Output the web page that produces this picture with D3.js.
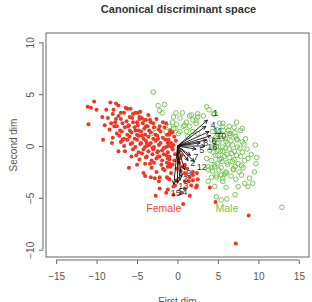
<!DOCTYPE html>
<html>
<head>
<meta charset="utf-8">
<script src="https://cdn.jsdelivr.net/npm/d3@7"></script>
<style>
  body { margin: 0; background: #fff; }
  svg { display: block; font-family: "Liberation Sans", Arial, sans-serif; }
</style>
</head>
<body>
<svg id="chart" width="312" height="302"></svg>
<script>
// Canonical scores (first dim, second dim)
const female = [
  [-10.3,4.3],[-11.1,3.8],[-10.7,3.7],[-10.0,3.5],[-11.0,2.1],[-8.3,4.2],[-7.6,4.1],[-7.3,3.9],
  [-7.9,3.5],[-6.2,3.6],[-9.2,0.6],[-8.1,0.3],[-6.0,-2.1],[-6.5,-0.5],[-5.7,-1.0],[-4.9,3.2],
  [-3.9,2.5],[-5.0,-1.8],[-4.0,-2.9],[-3.3,-3.0],[-2.3,-3.4],[-1.3,-3.0],[-2.2,-4.1],[-1.4,-4.5],
  [-2.7,-4.8],[-0.3,-3.8],[0.7,-5.6],[-0.5,-4.7],[1.5,-4.8],[2.3,-4.0],[1.7,-3.8],[4.0,-4.0],
  [4.7,-5.4],[8.8,-6.7],[7.2,-9.4],[2.4,-2.6],[2.5,-3.2],[1.5,-3.0],[-2.2,-3.0],[-1.0,-3.2],
  [1.4,-3.4],[-5.5,3.1],[-4.7,2.8],[-3.4,2.5],[-1.8,2.3],[-1.0,1.2],[-2.4,0.7],[-3.8,0.3],
  [-1.4,-0.1],[-2.2,-1.0],[-3.4,-1.7],[-1.0,-1.7],[-1.6,-2.3],[-4.2,-2.6],[-2.8,-3.1],
  [-1.0,1.1],[-1.2,0.3],[-0.7,-0.1],[-1.4,-0.9],[-1.0,-1.3],[-1.2,-2.0],[-0.1,-3.3],[0.9,-3.4],
  [1.9,-3.3],[2.4,-3.8],[0.9,-4.1],[-0.5,-3.9],[-1.2,-4.2],[0.5,-4.5],[-1.2,-3.1],[0.9,-2.6],[1.9,-2.8],
  [-8.8,3.5],[-7.0,3.2],[-5.8,3.6],[-4.6,3.3],[-6.4,3.7],
  [-9.3,2.8],[-8.0,3.1],[-7.3,2.9],[-6.6,3.2],[-5.9,2.8],[-5.2,3.2],[-4.4,2.7],[-3.6,3.0],
  [-8.6,2.7],[-7.7,2.3],[-7.0,2.6],[-6.3,2.4],[-5.6,2.7],[-5.0,2.3],[-4.1,2.5],[-3.3,2.3],[-2.6,2.6],
  [-9.0,2.0],[-8.2,2.2],[-7.5,1.9],[-6.8,2.2],[-6.1,1.9],[-5.5,2.3],[-4.9,2.0],[-4.3,2.2],[-3.7,1.9],
  [-3.0,2.2],[-2.2,1.9],[-1.4,2.2],
  [-8.4,1.6],[-7.8,1.9],[-7.1,1.5],[-6.5,1.8],[-5.9,1.5],[-5.3,1.8],[-4.8,1.5],[-4.1,1.7],[-3.5,1.5],
  [-2.9,1.8],[-2.3,1.6],[-1.6,1.8],[-0.9,1.5],
  [-7.5,1.2],[-6.9,1.4],[-6.2,1.1],[-5.7,1.3],[-5.0,1.1],[-4.5,1.4],[-4.0,1.1],[-3.3,1.3],[-2.7,1.1],
  [-2.1,1.4],[-1.3,1.1],[-0.6,1.3],
  [-8.0,0.8],[-7.2,1.0],[-6.6,0.7],[-5.9,0.9],[-5.3,0.7],[-4.8,1.0],[-4.2,0.7],[-3.6,0.9],[-3.0,0.7],
  [-2.5,1.0],[-1.8,0.8],[-1.1,0.6],[-0.4,0.9],
  [-7.0,0.4],[-6.2,0.6],[-5.6,0.3],[-5.0,0.6],[-4.5,0.3],[-3.9,0.5],[-3.3,0.3],[-2.7,0.5],[-2.1,0.3],
  [-1.5,0.6],[-0.8,0.3],[-0.2,0.5],
  [-6.6,0.0],[-5.8,0.2],[-5.2,-0.1],[-4.6,0.2],[-4.0,-0.1],[-3.5,0.1],[-2.9,-0.1],[-2.3,0.1],[-1.7,-0.2],
  [-1.1,0.0],[-0.5,0.1],
  [-7.3,-0.5],[-5.5,-0.3],[-4.8,-0.6],[-4.2,-0.3],[-3.6,-0.5],[-3.0,-0.3],[-2.5,-0.6],[-1.9,-0.4],
  [-1.2,-0.6],[-0.6,-0.3],[0.2,-0.5],
  [-5.1,-0.9],[-4.4,-0.7],[-3.8,-1.0],[-3.1,-0.8],[-2.4,-1.0],[-1.7,-0.8],[-1.0,-1.0],[-0.3,-0.8],[0.5,-0.9],
  [-4.7,-1.3],[-3.9,-1.1],[-3.2,-1.4],[-2.6,-1.2],[-1.9,-1.4],[-1.2,-1.2],[-0.4,-1.4],[0.3,-1.2],
  [-4.0,-1.7],[-2.9,-1.6],[-2.0,-1.8],[-1.3,-1.6],[-0.6,-1.8],[0.2,-1.6],[0.9,-1.8],
  [-3.2,-2.1],[-1.8,-2.2],[-0.9,-2.0],[-0.1,-2.2],[0.6,-2.0],[1.2,-2.2],
  [-2.6,-2.5],[-0.8,-2.6],[0.4,-2.4],[1.0,-2.7],[1.9,-2.5],
  [-6.0,2.0],[-5.2,1.5],[-4.4,1.0],[-3.8,0.0],[-3.1,-0.2],[-2.4,-0.5],[-6.8,0.6],[-7.6,2.6],
  [-4.7,2.6],[-3.9,1.9]
];

const male = [
  [-3.0,5.2],[-2.4,3.9],[-1.6,4.0],[-2.2,3.4],[-1.9,3.2],[-0.2,3.2],[0.6,3.2],[-0.5,2.8],
  [0.3,2.7],[1.5,2.9],[2.5,3.1],[3.6,3.8],[3.9,3.5],[4.4,3.1],[3.2,2.9],[-0.6,2.3],
  [-0.1,2.1],[1.1,2.3],[1.9,2.5],[-1.0,1.9],[-0.3,1.7],[0.7,1.9],[1.5,1.9],[2.3,2.2],
  [-1.4,1.4],[0.1,1.2],[1.1,1.4],[1.9,1.4],[-2.8,1.7],[-3.2,1.2],[2.5,2.8],[4.6,3.1],
  [5.6,2.2],[1.7,3.0],[2.3,2.5],[0.9,2.0],[-0.5,1.7],[0.3,1.4],[1.3,0.9],[2.5,1.2],
  [4.6,0.6],[5.0,-0.4],[5.4,-1.2],[4.6,-2.0],[3.8,-2.3],[4.2,-3.0],[6.0,-2.6],[5.6,-3.4],
  [4.6,-3.9],[3.8,-3.4],[12.9,-5.9],[7.1,-4.7],[4.8,-4.9],[5.4,-5.2],[6.1,-5.1],[9.8,-1.1],
  [9.6,0.1],[9.7,-1.7],[9.5,-2.5],[9.3,-3.6],[8.7,-3.9],[7.5,-3.9],[6.0,-4.0],[8.9,-3.1],
  [7.9,-2.8],[8.1,-2.1],[9.1,-0.8],[8.3,-3.6],[6.9,-2.3],[5.4,-2.8],[4.8,-3.0],[4.2,-2.1],
  [6.5,1.2],[7.4,0.6],
  [5.2,2.2],[6.4,1.9],[7.3,2.3],
  [4.8,1.6],[5.6,1.9],[6.3,1.5],[7.0,1.8],[8.0,1.7],
  [4.3,1.4],[5.0,1.1],[5.7,1.5],[6.4,1.2],[7.1,1.3],[7.8,1.5],
  [4.7,0.8],[5.3,1.1],[5.9,0.7],[6.5,1.0],[7.2,0.9],[8.4,0.7],
  [4.2,0.6],[4.9,0.3],[5.5,0.7],[6.0,0.4],[6.6,0.5],[7.3,0.7],[8.0,0.4],
  [4.5,0.0],[5.1,0.3],[5.6,-0.1],[6.2,0.2],[6.8,0.1],[7.4,-0.1],[8.2,0.2],
  [4.0,-0.4],[4.8,-0.1],[5.3,-0.5],[5.9,-0.2],[6.4,-0.3],[7.0,-0.5],[7.7,-0.2],[8.6,-0.3],
  [4.4,-0.6],[5.0,-0.9],[5.6,-0.5],[6.1,-0.8],[6.7,-0.7],[7.3,-0.9],[8.0,-0.6],
  [3.6,-1.2],[4.7,-0.9],[5.2,-1.3],[5.8,-1.0],[6.4,-1.1],[7.0,-1.3],[7.8,-1.0],[8.7,-1.2],
  [4.2,-1.4],[4.9,-1.7],[5.5,-1.5],[6.1,-1.6],[6.8,-1.5],[7.5,-1.7],[8.3,-1.4],
  [3.8,-2.0],[4.6,-1.8],[5.4,-2.1],[6.2,-1.8],[7.1,-2.0],[7.9,-1.9],
  [4.3,-2.4],[5.1,-2.3],[6.0,-2.5],[6.9,-2.2],[7.6,-2.5],
  [4.8,-2.8],[5.8,-2.7],[6.6,-2.9],
  [5.6,-3.1],[7.2,-3.2]
];

// Structure vectors: variable number, arrow tip, label position
const vecNames = ["1","4","11","10","6","16","8","5","12","7","2","9","3","13","14","15"];
const vecTips = [
  [3.7,2.5],[3.5,1.9],[3.9,1.4],[4.1,1.0],[3.6,0.6],[3.4,0.0],[2.8,0.3],[2.3,-0.3],
  [2.1,-1.5],[1.6,-0.9],[1.3,-1.4],[0.9,-2.3],[0.5,-3.0],[0.3,-3.3],[0.0,-3.6],[-0.45,-3.7]
];
const vecLabelAt = [
  [4.7,3.2],[4.4,2.0],[5.0,1.5],[5.4,1.0],[4.5,0.5],[4.3,-0.1],[3.5,0.3],[3.0,-0.4],
  [3.0,-2.0],[2.3,-1.0],[1.9,-1.6],[1.4,-2.6],[1.0,-3.2],[0.7,-3.8],[0.6,-4.4],[-0.2,-4.5]
];

const groups = ["Female", "Male"];
const groupLabelAt = [[-1.7,-6.0],[6.1,-6.0]];

const xTicks = [-15, -10, -5, 0, 5, 10, 15];
const yTicks = [-10, -5, 0, 5, 10];

const RED = "#f03522";
const GREEN = "#6dbf4b";

const svg = d3.select("#chart");
const x = d3.scaleLinear().domain([-16.25, 16.25]).range([46, 309]);
const y = d3.scaleLinear().domain([-10.7, 10.9]).range([257, 33]);

// points
svg.append("g").selectAll("circle").data(male).join("circle")
  .attr("cx", d => x(d[0])).attr("cy", d => y(d[1])).attr("r", 2.3)
  .attr("fill", "none").attr("stroke", GREEN).attr("stroke-width", 0.9);

svg.append("g").selectAll("circle").data(female).join("circle")
  .attr("cx", d => x(d[0])).attr("cy", d => y(d[1])).attr("r", 2)
  .attr("fill", RED);

// vectors with small arrow heads
const vg = svg.append("g").attr("stroke", "#111").attr("stroke-width", 0.9).attr("fill", "none");
vecTips.forEach(t => {
  const x0 = x(0), y0 = y(0), x1 = x(t[0]), y1 = y(t[1]);
  const a = Math.atan2(y1 - y0, x1 - x0);
  const p = d3.path();
  p.moveTo(x0, y0); p.lineTo(x1, y1);
  p.moveTo(x1 - 4 * Math.cos(a - 0.45), y1 - 4 * Math.sin(a - 0.45));
  p.lineTo(x1, y1);
  p.lineTo(x1 - 4 * Math.cos(a + 0.45), y1 - 4 * Math.sin(a + 0.45));
  vg.append("path").attr("d", p.toString());
});
svg.append("g").selectAll("text").data(vecNames).join("text")
  .attr("x", (d, i) => x(vecLabelAt[i][0])).attr("y", (d, i) => y(vecLabelAt[i][1]))
  .attr("dy", "0.35em").attr("text-anchor", "middle")
  .attr("font-size", 9).attr("fill", "#333")
  .text(d => d);

// group labels
svg.append("g").selectAll("text").data(groups).join("text")
  .attr("x", (d, i) => x(groupLabelAt[i][0])).attr("y", (d, i) => y(groupLabelAt[i][1]))
  .attr("dy", "0.35em").attr("text-anchor", "middle").attr("font-size", 10.5)
  .attr("fill", (d, i) => i === 0 ? "#ee4a3c" : "#74c257")
  .text(d => d);

// frame
svg.append("rect").attr("x", 46).attr("y", 33).attr("width", 263).attr("height", 224)
  .attr("fill", "none").attr("stroke", "#666").attr("stroke-width", 1);

// axes
const xAxis = svg.append("g").attr("transform", "translate(0,260)")
  .call(d3.axisBottom(x).tickValues(xTicks).tickFormat(d => d < 0 ? "\u2212" + (-d) : d)
    .tickSize(4).tickSizeOuter(0).tickPadding(9));
xAxis.select(".domain").attr("d", `M${x(-15)},0H${x(15)}`);

const yAxis = svg.append("g").attr("transform", "translate(43,0)")
  .call(d3.axisLeft(y).tickValues(yTicks).tickFormat(d => d < 0 ? "\u2212" + (-d) : d)
    .tickSize(4).tickSizeOuter(0));
yAxis.select(".domain").attr("d", `M0,${y(-10)}V${y(10)}`);
yAxis.selectAll(".tick text")
  .attr("x", 0).attr("y", -9.5).attr("dy", 0)
  .attr("text-anchor", "middle").attr("transform", "rotate(-90)");

[xAxis, yAxis].forEach(g => {
  g.selectAll(".domain, .tick line").attr("stroke", "#666");
  g.selectAll(".tick text").attr("fill", "#555").attr("font-size", 10)
    .attr("font-family", "Liberation Sans, Arial, sans-serif");
});

// titles
svg.append("text").attr("x", 178.5).attr("y", 13).attr("text-anchor", "middle")
  .attr("font-size", 11).attr("font-weight", "bold").attr("fill", "#333")
  .text("Canonical discriminant space");
svg.append("text").attr("x", 177.5).attr("y", 305).attr("text-anchor", "middle")
  .attr("font-size", 10).attr("fill", "#555").text("First dim");
svg.append("text").attr("transform", "translate(16.5,145) rotate(-90)").attr("text-anchor", "middle")
  .attr("font-size", 10).attr("fill", "#555").text("Second dim");
</script>
</body>
</html>
